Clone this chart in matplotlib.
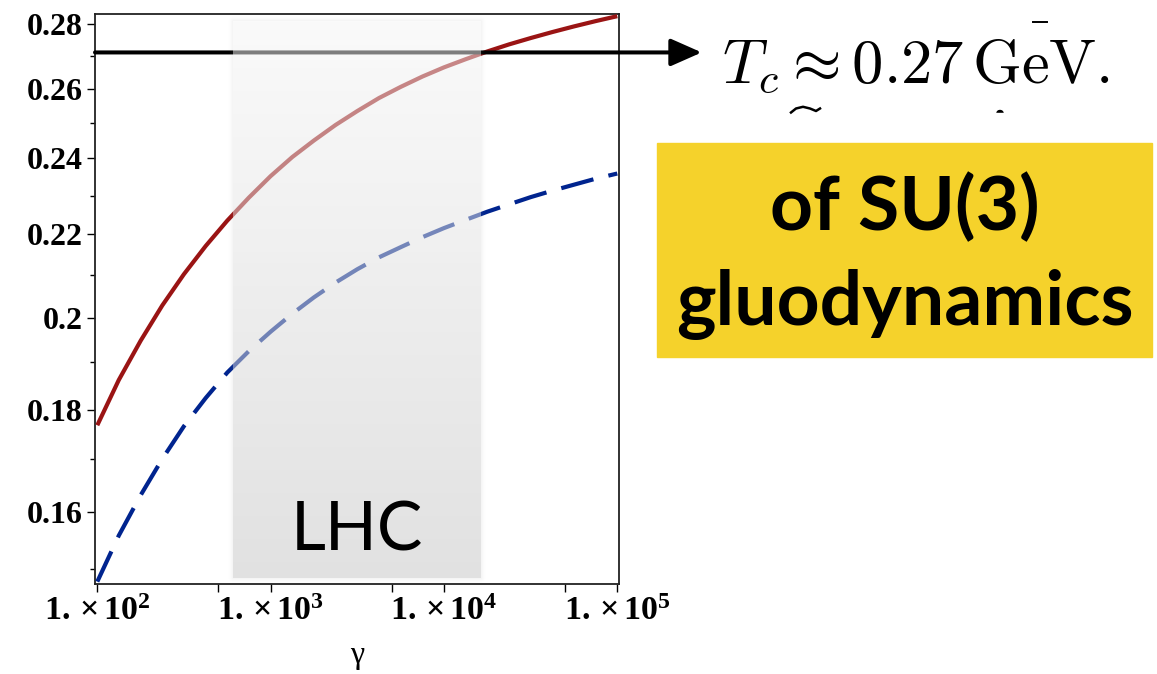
import numpy as np
import matplotlib
matplotlib.use("Agg")
import matplotlib.pyplot as plt
from matplotlib.patches import Rectangle, Ellipse
from matplotlib.lines import Line2D
from matplotlib.ticker import FixedLocator, NullFormatter

plt.rcParams['mathtext.fontset'] = 'custom'
plt.rcParams['mathtext.rm'] = 'Liberation Serif'
plt.rcParams['mathtext.bf'] = 'Liberation Serif:bold'
plt.rcParams['mathtext.it'] = 'Liberation Serif:italic'

# ---------------- data ----------------
red_gamma = [100, 133, 178, 237, 316, 422, 562, 750, 1000, 1334, 1778, 2371, 3162, 4217, 5623, 7499,
             10000, 13335, 17783, 23714, 31623, 42170, 56234, 74989, 100000]
red_T = [0.1768, 0.1862, 0.1948, 0.2028, 0.2102, 0.2171, 0.2235, 0.2295, 0.2352, 0.2404, 0.2450, 0.2494,
         0.2534, 0.2572, 0.2605, 0.2636, 0.2664, 0.2689, 0.2713, 0.2735, 0.2755, 0.2774, 0.2792, 0.2809,
         0.2825]

blue_gamma = [100, 133, 178, 237, 316, 422, 562, 750, 1000, 1334, 1778, 2371, 3162, 4217, 5623, 7499,
              10000, 13335, 17783, 23714, 31623, 42170, 56234, 74989, 100000]
blue_T = [0.1478, 0.1558, 0.1632, 0.1701, 0.1766, 0.1824, 0.1878, 0.1925, 0.1968, 0.2009, 0.2047, 0.2082,
          0.2114, 0.2143, 0.2168, 0.2193, 0.2216, 0.2237, 0.2258, 0.2277, 0.2296, 0.2313, 0.2329, 0.2345,
          0.2359]

Tc_value = 0.271
lhc_gamma = [607, 16400]
lhc_T = [0.1485, 0.2812]

y_major = [0.16, 0.18, 0.20, 0.22, 0.24, 0.26, 0.28]
y_major_labels = ['0.16', '0.18', '0.2', '0.22', '0.24', '0.26', '0.28']
y_minor = [0.15, 0.17, 0.19, 0.21, 0.23, 0.25, 0.27]
x_major = [1e2, 1e3, 1e4, 1e5]
x_major_labels = [r'$\mathbf{1.\times 10^{2}}$', r'$\mathbf{1.\times 10^{3}}$',
                  r'$\mathbf{1.\times 10^{4}}$', r'$\mathbf{1.\times 10^{5}}$']
x_minor = [5e2, 5e3, 5e4]

W, H = 1157, 674
fig = plt.figure(figsize=(W / 100, H / 100), dpi=100)
fig.patch.set_facecolor('white')

def fx(px):
    return np.asarray(px) / W

def fy(py):
    return 1 - np.asarray(py) / H

ax = fig.add_axes([fx(95), fy(584), (619 - 95) / W, (584 - 14) / H])
ax.set_xscale('log')
ax.set_yscale('log')
ax.set_xlim(96.99, 102300)
ax.set_ylim(0.1474, 0.2832)

ax.plot(red_gamma, red_T, color='#9a1414', lw=3.0, solid_capstyle='butt', zorder=3)
ax.plot(blue_gamma, blue_T, color='#00248f', lw=3.0, dashes=(8, 3.7), dash_capstyle='butt', zorder=3)

# ticks
ax.yaxis.set_major_locator(FixedLocator(y_major))
ax.set_yticklabels(y_major_labels)
ax.yaxis.set_minor_locator(FixedLocator(y_minor))
ax.yaxis.set_minor_formatter(NullFormatter())
ax.xaxis.set_major_locator(FixedLocator(x_major))
ax.set_xticklabels(x_major_labels)
ax.xaxis.set_minor_locator(FixedLocator(x_minor))
ax.xaxis.set_minor_formatter(NullFormatter())

ax.tick_params(axis='y', which='major', direction='out', length=6, width=1, pad=3, labelsize=23)
ax.tick_params(axis='y', which='minor', direction='out', length=3.5, width=1)
ax.tick_params(axis='x', which='both', direction='out', length=6, width=1, pad=1, labelsize=24.5)
for lab in ax.get_yticklabels():
    lab.set_fontfamily('Liberation Serif')
    lab.set_fontweight('bold')
for s in ax.spines.values():
    s.set_linewidth(1.3)
    s.set_color('#222222')

ax.set_xlabel('γ', fontsize=23, family='Liberation Serif')
ax.xaxis.label.set_va('baseline')
ax.xaxis.set_label_coords(0.5, -0.138)

# arrow at Tc
ax.annotate('', xy=(fx(701.7), Tc_value), xycoords=('figure fraction', 'data'),
            xytext=(ax.get_xlim()[0], Tc_value), textcoords='data',
            arrowprops=dict(arrowstyle='-|>,head_length=0.95,head_width=0.42', lw=2.9, color='k',
                            shrinkA=0, shrinkB=0, mutation_scale=20),
            annotation_clip=False, zorder=4)

# LHC overlay (semi-transparent gradient with a soft shadow)
fig.canvas.draw()
to_px = ax.transData
(px0, py0) = to_px.transform((lhc_gamma[0], lhc_T[0]))
(px1, py1) = to_px.transform((lhc_gamma[1], lhc_T[1]))
m = 8
wp = int(round(px1 - px0))
hp = int(round(py1 - py0))
ov = fig.add_axes([(px0 - m) / W, (py0 - m) / H, (wp + 2 * m) / W, (hp + 2 * m) / H], zorder=5)
ov.set_axis_off()
rows = hp + 2 * m
cols = wp + 2 * m
yy, xx = np.mgrid[0:rows, 0:cols]
dx = np.maximum(np.maximum(m - xx, xx - (m + wp - 1)), 0)
dy = np.maximum(np.maximum(m - yy, yy - (m + hp - 1)), 0)
d = np.hypot(dx, dy)
frac = np.clip((yy - m) / max(hp - 1, 1), 0, 1)
shade = 0.965 - 0.19 * frac
img = np.zeros((rows, cols, 4))
inside = d == 0
for c in range(3):
    img[..., c] = np.where(inside, shade, 0.55)
img[..., 3] = np.where(inside, 0.52, 0.09 * np.exp(-(d / 3.0) ** 2))
ov.imshow(img, aspect='auto', extent=[0, 1, 0, 1], origin='upper', interpolation='nearest')
ov.set_xlim(0, 1)
ov.set_ylim(0, 1)
fig.text((px0 + px1) / 2 / W, (py0 + (576.7 - 549.3)) / H, 'LHC', ha='center', va='baseline',
         fontsize=49, family='Lato', color='black', zorder=6)

# Tc text
fig.text(fx(721.7), fy(82), r'$T_c \approx 0.27\,\mathrm{GeV}.$', fontsize=45,
         math_fontfamily='cm', ha='left', va='baseline')
# clipped remnants of neighbouring lines
fig.add_artist(Line2D([fx(1033), fx(1047)], [fy(22), fy(22)], lw=1.4, color='k'))
tx = np.array([791, 796, 803, 810, 816, 820])
ty = np.array([112.5, 108.5, 106.8, 108.5, 111.0, 108.5])
fig.add_artist(Line2D(fx(tx), fy(ty), lw=1.8, color='k'))
fig.add_artist(Ellipse((fx(1000), fy(113)), 6 / W, 5 / H, color='k'))
fig.add_artist(Rectangle((fx(985), fy(126)), 30 / W, 13 / H, color='white', transform=fig.transFigure))

# yellow box
fig.add_artist(Rectangle((fx(657.3), fy(356.7)), (1151.7 - 657.3) / W, (356.7 - 142.7) / H,
                         transform=fig.transFigure, color='#f5d22b', zorder=1))
fig.text(fx(904.5), fy(230), 'of SU(3)', fontsize=54, family='Lato', weight='bold',
         ha='center', va='baseline', zorder=2)
fig.text(fx(904.5), fy(325), 'gluodynamics', fontsize=54, family='Lato', weight='bold',
         ha='center', va='baseline', zorder=2)

fig.savefig('out.png', dpi=100)
